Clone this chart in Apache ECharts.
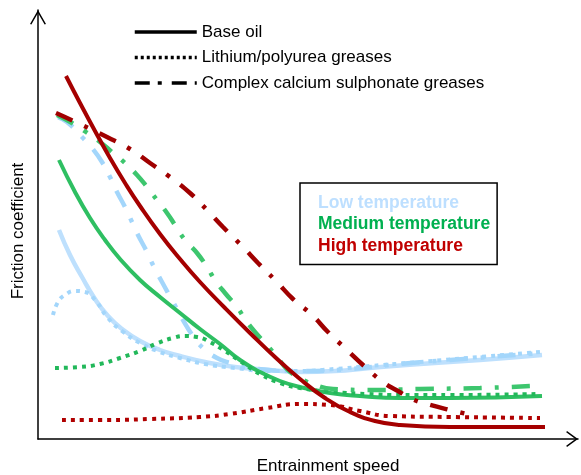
<!DOCTYPE html>
<html>
<head>
<meta charset="utf-8">
<script src="https://cdn.jsdelivr.net/npm/echarts@6/dist/echarts.min.js"></script>
<style>
html,body{margin:0;padding:0;background:#fff;}
#chart{width:581px;height:475px;}
</style>
</head>
<body>
<div id="chart"></div>
<script>
// Schematic values (arbitrary units): [entrainment speed, friction coefficient]
const baseOilLow = [[21,209],[32,184],[44,162],[57,140],[70,123],[84,110],[102,98],[122,89],[142,83],[167,77],[197,72],[232,69],[262,67],[297,68],[332,71],[382,75],[442,79],[504,84]];
const baseOilMedium = [[21,279],[37,247],[52,221],[67,199],[82,180],[102,159],[122,142],[142,126],[162,110],[182,95],[202,79],[222,67],[242,58],[262,52],[292,46],[322,43],[362,41],[412,41],[504,43]];
const baseOilHigh = [[28,363],[42,336],[57,308],[72,281],[87,256],[102,233],[122,205],[142,180],[162,157],[187,131],[212,106],[237,82],[262,60],[287,41],[312,27],[337,18],[362,14],[412,12],[507,12]];

const lithiumLow = [[15,124],[20,137],[27,144],[37,148],[47,147],[57,139],[70,121],[84,108],[102,96],[122,87],[142,81],[167,75],[197,71],[232,68],[262,68],[297,70],[332,73],[382,77],[442,82],[502,87]];
const lithiumMedium = [[17,71],[42,72],[62,75],[82,81],[102,88],[120,96],[135,101],[147,103],[159,102],[172,97],[187,88],[202,78],[222,65],[242,56],[262,51],[295,47],[329,45],[362,44],[412,44],[502,45]];
const lithiumHigh = [[24,19],[62,19],[112,20],[162,22],[192,25],[229,31],[262,35],[292,34],[322,28],[352,23],[412,22],[502,21]];

const complexLow = [[20,322],[29,317],[44,302],[54,291],[64,277],[72,262],[79,247],[87,232],[94,217],[100,204],[109,187],[115,174],[124,157],[134,139],[145,119],[155,103],[165,91],[179,81],[192,76],[212,71],[262,68],[312,70],[362,75],[412,79],[504,86]];
const complexMedium = [[19,324],[34,316],[48,307],[62,297],[74,287],[87,276],[99,264],[109,252],[119,239],[129,226],[137,214],[147,199],[159,186],[169,172],[177,159],[187,146],[199,132],[207,120],[217,107],[229,94],[239,82],[250,69],[262,61],[277,54],[295,50],[332,49],[382,50],[442,51],[494,53]];
const complexHigh = [[18,326],[42,315],[69,302],[92,290],[112,276],[132,262],[152,246],[169,229],[185,212],[204,193],[220,176],[238,158],[255,140],[274,124],[290,107],[309,89],[325,74],[345,57],[360,48],[374,40],[389,35],[412,29],[438,23]];

const lubricantNames = ['Base oil', 'Lithium/polyurea greases', 'Complex calcium sulphonate greases'];
const temperatureNames = ['Low temperature', 'Medium temperature', 'High temperature'];

const FONT = 'Liberation Sans, Arial, Helvetica, sans-serif';
const DOT = [4, 5];
const DASHDOT = [18, 13, 4, 13];

function curve(name, data, color, type, width) {
  return {
    name: name, type: 'line', data: data, smooth: 0.5, symbol: 'none',
    silent: true, animation: false,
    lineStyle: { color: color, width: width || 4, type: type, cap: 'butt' },
    itemStyle: { color: color }
  };
}
function dummy(name, lineType) {
  return {
    name: name, type: 'line', data: [], symbol: 'circle', symbolSize: 0,
    lineStyle: { color: '#000', width: 3.5, type: lineType, cap: 'butt' },
    itemStyle: { color: 'rgba(0,0,0,0)', opacity: 0 }
  };
}

const chart = echarts.init(document.getElementById('chart'), null, { renderer: 'canvas' });
chart.setOption({
  animation: false,
  backgroundColor: '#fff',
  grid: { left: 38, right: 3, top: 10, bottom: 36, containLabel: false, outerBoundsMode: 'none' },
  xAxis: {
    type: 'value', min: 0, max: 540,
    name: 'Entrainment speed', nameLocation: 'middle', nameGap: 19,
    nameTextStyle: { fontFamily: FONT, fontSize: 17, color: '#000', padding: [0, 0, 0, 40] },
    axisLine: { show: true, lineStyle: { color: '#000', width: 1.5 },
      symbol: ['none', 'path://M8,0 L16,11 L14.8,11.8 L8,2.6 L1.2,11.8 L0,11 Z'],
      symbolSize: [16, 11.8], symbolOffset: [0, -5.9] },
    axisTick: { show: false }, axisLabel: { show: false }, splitLine: { show: false }
  },
  yAxis: {
    type: 'value', min: 0, max: 429,
    name: 'Friction coefficient', nameLocation: 'middle', nameRotate: 90, nameGap: 11,
    nameTextStyle: { fontFamily: FONT, fontSize: 17, color: '#000', padding: [0, 13, 0, 0] },
    axisLine: { show: true, lineStyle: { color: '#000', width: 1.5 },
      symbol: ['none', 'path://M8,0 L16,14 L14.6,14.6 L8,3 L1.4,14.6 L0,14 Z'],
      symbolSize: [16, 14.6], symbolOffset: [0, -7.3] },
    axisTick: { show: false }, axisLabel: { show: false }, splitLine: { show: false }
  },
  legend: [
    {
      orient: 'vertical', left: 133, top: 23, padding: 0,
      itemWidth: 62, itemHeight: 18, itemGap: 7.5, selectedMode: false,
      data: lubricantNames,
      textStyle: { fontFamily: FONT, fontSize: 17, color: '#000', lineHeight: 18 },
      lineStyle: { width: 3.5 },
      itemStyle: { opacity: 0 }
    },
    {
      orient: 'vertical', left: 300, top: 183, padding: [9, 7, 8, 9],
      borderColor: '#000', borderWidth: 1.5,
      itemWidth: 0, itemHeight: 10, itemGap: 0, selectedMode: false,
      itemStyle: { opacity: 0 }, lineStyle: { width: 0 },
      textStyle: { fontFamily: FONT, fontSize: 17.5, fontWeight: 'bold', lineHeight: 21.5 },
      data: [
        { name: temperatureNames[0], textStyle: { color: '#BDDFFF' } },
        { name: temperatureNames[1], textStyle: { color: '#00B050' } },
        { name: temperatureNames[2], textStyle: { color: '#C00000' } }
      ]
    }
  ],
  series: [
    dummy(lubricantNames[0], 'solid'),
    dummy(lubricantNames[1], [3, 3]),
    dummy(lubricantNames[2], [15, 8, 4, 10]),
    dummy(temperatureNames[0], 'solid'),
    dummy(temperatureNames[1], 'solid'),
    dummy(temperatureNames[2], 'solid'),
    curve('Base oil – low', baseOilLow, '#BEE0FD', 'solid', 4.5),
    curve('Lithium – low', lithiumLow, '#A3D6FB', DOT, 4),
    curve('Complex – low', complexLow, '#A3D6FB', DASHDOT, 4.5),
    curve('Base oil – medium', baseOilMedium, '#2EBF62', 'solid', 4),
    curve('Lithium – medium', lithiumMedium, '#22B85A', DOT, 4),
    curve('Complex – medium', complexMedium, '#3DC66E', DASHDOT, 4.5),
    curve('Base oil – high', baseOilHigh, '#A50000', 'solid', 4),
    curve('Lithium – high', lithiumHigh, '#B00000', DOT, 4),
    curve('Complex – high', complexHigh, '#A00000', DASHDOT, 4.5)
  ]
});
</script>
</body>
</html>
